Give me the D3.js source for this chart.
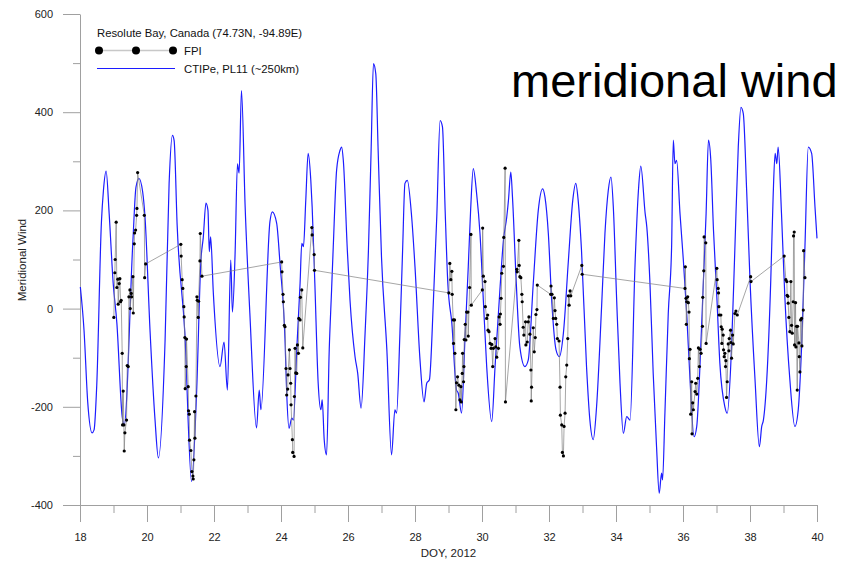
<!DOCTYPE html>
<html>
<head>
<meta charset="utf-8">
<script src="https://cdn.jsdelivr.net/npm/d3@7"></script>
<style>
  body { margin: 0; background: #fff; }
  svg { display: block; font-family: "Liberation Sans", Arial, sans-serif; }
  .axis path, .axis line { stroke: #a0a0a0; stroke-width: 1; }
  .axis text { fill: #222; font-size: 11px; }
</style>
</head>
<body>
<svg id="chart" width="850" height="569"></svg>
<script>
// CTIPe model, PL11 (~250km)
var ctipeDoy = [18.01, 18.12, 18.23, 18.36, 18.42, 18.50, 18.64, 18.70, 18.78, 18.87, 18.99, 19.10, 19.26, 19.32, 19.58, 19.67, 19.76, 19.87, 19.94,
  20.09, 20.24, 20.34, 20.54, 20.66, 20.76, 20.81, 20.90, 21.13, 21.33, 21.48, 21.61, 21.68, 21.76, 21.82, 21.86, 21.90, 21.98,
  22.18, 22.30, 22.40, 22.50, 22.55, 22.63, 22.70, 22.75, 22.82, 22.93, 23.07, 23.27, 23.35, 23.40, 23.67, 23.74, 23.87, 23.97,
  24.12, 24.17, 24.24, 24.32, 24.37, 24.47, 24.57, 24.62, 24.67, 24.74, 24.81, 24.89, 24.93, 25.01, 25.11, 25.19, 25.23, 25.29, 25.36,
  25.44, 25.51, 25.56, 25.66, 25.76, 25.81, 25.86, 25.98, 26.06, 26.21, 26.29, 26.39, 26.51, 26.61, 26.69, 26.76, 26.83, 26.90,
  27.00, 27.16, 27.30, 27.40, 27.45, 27.55, 27.63, 27.70, 27.77, 27.90, 28.00, 28.15, 28.27, 28.35, 28.43, 28.55, 28.65, 28.75, 28.82,
  28.90, 28.98, 29.10, 29.24, 29.29, 29.39, 29.49, 29.59, 29.66, 29.74, 29.84, 29.94, 30.04, 30.14, 30.29, 30.39, 30.54, 30.64,
  30.74, 30.79, 30.86, 30.91, 31.01, 31.13, 31.28, 31.38, 31.53, 31.68, 31.81, 31.88, 31.98, 32.08, 32.21, 32.31, 32.43, 32.58,
  32.71, 32.80, 32.87, 32.97, 33.12, 33.22, 33.32, 33.42, 33.57, 33.67, 33.77, 33.85, 33.92, 34.02, 34.12, 34.22, 34.32, 34.42,
  34.57, 34.67, 34.74, 34.87, 34.92, 35.01, 35.11, 35.21, 35.29, 35.36, 35.39, 35.46, 35.56, 35.66, 35.71, 35.76, 35.81, 35.91,
  36.01, 36.11, 36.21, 36.33, 36.41, 36.51, 36.61, 36.69, 36.76, 36.83, 36.91, 37.01, 37.10, 37.25, 37.32, 37.45, 37.55, 37.65,
  37.73, 37.80, 37.90, 38.00, 38.15, 38.28, 38.35, 38.40, 38.50, 38.62, 38.69, 38.75, 38.80, 38.84, 38.94, 39.04, 39.19, 39.34,
  39.44, 39.54, 39.64, 39.74, 39.84, 39.94, 40.00];
var ctipeWind = [44, -44, -190, -253, -247, -156, 177, 241, 280, 194, 52, -29, -220, -237, 139, 247, 265, 238, 187,
  -44, -227, -304, -64, 255, 353, 342, 170, -50, -352, -172, 99, 145, 215, 200, 116, 146, 32,
  -118, -68, -166, 99, -7, 113, 295, 276, 444, 207, -9, -243, -166, -206, 177, 197, 174, 92,
  -64, -172, -244, -223, -227, -84, 52, 133, 126, 221, 316, 261, 207, 52, -152, -206, -186, -267, -298,
  -84, 38, 126, 282, 322, 329, 302, 119, 17, -98, -132, -203, -50, 119, 322, 499, 478, 322,
  105, -84, -298, -206, -213, -50, 119, 255, 261, 187, 85, -105, -190, -152, -145, 17, 187, 383, 370,
  200, 51, -30, -166, -172, -213, -64, 85, 200, 285, 234, 153, 17, -118, -230, -118, 44, 139,
  187, 221, 278, 227, 72, -78, -118, -105, 51, 200, 244, 227, 153, 17, -84, -98, -50, 99,
  221, 255, 221, 119, -118, -227, -267, -200, 4, 153, 241, 268, 207, 17, -152, -254, -220, -227,
  93, 241, 290, 194, 166, 58, -131, -281, -376, -335, -349, -213, -10, 126, 343, 295, 302, 194,
  99, -10, -145, -261, -240, -111, 58, 194, 343, 302, 160, 24, -111, -200, -213, -78, 126, 329,
  410, 397, 241, 58, -145, -281, -240, -227, -145, 58, 227, 316, 295, 329, 194, 24, -145, -240,
  -206, -78, 126, 329, 316, 207, 143];

// FPI, Resolute Bay
var fpiDoy = [19.01, 19.04, 19.05, 19.08, 19.10, 19.13, 19.14, 19.17, 19.19, 19.21, 19.23, 19.26, 19.27, 19.29, 19.31, 19.32, 19.34,
  19.39, 19.41, 19.44, 19.46, 19.49, 19.50, 19.53, 19.54, 19.58, 19.59, 19.62, 19.63, 19.66, 19.69, 19.70, 19.72, 19.92, 19.93, 19.96,
  21.01, 21.02, 21.05, 21.07, 21.10, 21.11, 21.13, 21.14, 21.17, 21.18, 21.23, 21.24, 21.26, 21.27, 21.31, 21.34, 21.37, 21.38,
  21.40, 21.42, 21.43, 21.46, 21.49, 21.50, 21.53, 21.54, 21.58, 21.59, 21.64,
  24.02, 24.03, 24.06, 24.07, 24.10, 24.12, 24.15, 24.17, 24.20, 24.21, 24.25, 24.27, 24.29, 24.30, 24.34, 24.35, 24.39, 24.40,
  24.42, 24.44, 24.47, 24.49, 24.52, 24.53, 24.57, 24.58, 24.62, 24.65, 24.92, 24.93, 24.99, 25.00,
  29.01, 29.04, 29.07, 29.10, 29.11, 29.14, 29.15, 29.18, 29.19, 29.22, 29.24, 29.27, 29.31, 29.34, 29.37, 29.38, 29.41, 29.42,
  29.45, 29.46, 29.47, 29.50, 29.52, 29.54, 29.58, 29.59, 29.63, 29.67, 29.68, 30.01, 30.02, 30.04, 30.09, 30.10, 30.14, 30.17,
  30.18, 30.21, 30.24, 30.27, 30.29, 30.32, 30.34, 30.39, 30.41, 30.44, 30.49, 30.51, 30.54, 30.55, 30.57, 30.59, 30.64, 30.65,
  30.69, 30.70, 31.04, 31.05, 31.10, 31.11, 31.13, 31.16, 31.19, 31.20, 31.23, 31.25, 31.30, 31.31, 31.35, 31.38, 31.40, 31.43,
  31.46, 31.47, 31.48, 31.53, 31.56, 31.59, 31.61, 31.64, 31.65, 32.05, 32.06, 32.09, 32.13, 32.16, 32.18, 32.20, 32.23, 32.25,
  32.30, 32.33, 32.34, 32.38, 32.40, 32.43, 32.45, 32.48, 32.50, 32.53, 32.56, 32.58, 32.60, 32.63, 32.65, 32.98, 32.99,
  36.06, 36.07, 36.09, 36.10, 36.11, 36.14, 36.16, 36.18, 36.19, 36.21, 36.23, 36.26, 36.27, 36.29, 36.31, 36.36, 36.38, 36.41,
  36.44, 36.46, 36.49, 36.51, 36.54, 36.58, 36.59, 36.62, 36.63, 36.68, 36.69, 37.01, 37.02, 37.05, 37.06, 37.07, 37.08, 37.13,
  37.14, 37.16, 37.17, 37.20, 37.21, 37.23, 37.25, 37.27, 37.28, 37.30, 37.32, 37.35, 37.37, 37.38, 37.42, 37.43, 37.45, 37.48,
  37.50, 37.55, 37.58, 37.62, 38.02, 38.03,
  39.02, 39.07, 39.10, 39.11, 39.13, 39.14, 39.16, 39.19, 39.22, 39.24, 39.26, 39.29, 39.30, 39.32, 39.33, 39.36, 39.37, 39.39,
  39.41, 39.42, 39.46, 39.47, 39.49, 39.51, 39.54, 39.55, 39.59, 39.60, 39.64];
var fpiWind = [-18, 73, 100, 176, 43, 60, 9, 51, 61, 14, 17, -91, -237, -168, -237, -290, -253,
  -227, -116, -118, 24, 38, 0, 31, 24, 65, -9, 132, 154, 160, 190, 204, 277, 190, 63, 91,
  131, 107, 59, 41, 4, -17, -59, -163, -118, -62, -159, -208, -215, -268, -289, -332, -341, -347,
  -308, -210, -264, -178, 24, 17, -18, 15, 97, 153, 66,
  95, 75, 29, 14, -34, -37, -122, -176, -164, -135, -84, -122, -152, -196, -267, -293, -301, -179,
  -81, -131, -132, -74, -91, -20, -23, 23, 38, -80, 165, 150, 110, 78,
  32, 92, 59, 76, 29, -23, -71, -23, -91, -206, -151, -139, -156, -186, -159, -190, -132, -91,
  -149, -118, -63, -32, -64, -7, -7, -56, 43, 151, 7, 38, 164, 66, 55, 4, -20, -13,
  -44, -47, -71, -81, -73, -118, -81, -61, -78, -99, -81, -17, -32, -11, 21, 72, 86, 145,
  286, -190, 80, 75, 139, 88, 65, 63, 29, 14, -38, -54, -27, -74, -68, -27, -17, -52,
  -125, -188, -160, -39, -88, -59, -12, -2, 48, 29, 46, 29, -20, 22, -4, -20, -32, -61,
  -66, -160, -217, -237, -293, -300, -240, -213, -139, -115, -61, 26, 7, 36, 26, 88, 70,
  41, 85, 21, -32, 14, 24, 12, -7, -102, -83, -215, -149, -255, -192, -206, -169, -152, -174,
  -142, -80, -118, -83, -91, -36, 23, 77, 146, 134, -71, 82, 59, 41, 32, 4, -13, -13,
  -37, -71, -42, -54, -84, -98, -91, -118, -106, -181, -149, -72, -86, -61, -44, -69, -101, -54,
  -72, -10, -5, -13, 65, 55,
  107, 59, 55, 27, 25, 11, -18, -47, 55, -34, -50, 14, 148, 156, -74, 12, -78, -36,
  -166, -36, -70, -98, -129, -23, -20, -76, -3, 118, 63];

var xTicks = d3.range(18, 41, 1),
    yTicks = d3.range(-400, 601, 100);

var svg = d3.select('#chart');

var x = d3.scaleLinear().domain([18, 40]).range([80, 817]),
    y = d3.scaleLinear().domain([-400, 600]).range([505, 14]);

// x axis
var xAxis = d3.axisBottom(x)
              .tickValues(xTicks)
              .tickSizeOuter(0)
              .tickFormat(function(d) { return d % 2 === 0 ? d : ''; });

var gx = svg.append('g')
            .attr('class', 'x axis')
            .attr('transform', 'translate(0,505)')
            .call(xAxis);
gx.selectAll('.tick line').attr('y2', function(d) { return d % 2 === 0 ? 17 : 8; });
gx.selectAll('.tick text').attr('y', 28);

// y axis
var yAxis = d3.axisLeft(y)
              .tickValues(yTicks)
              .tickSizeOuter(0)
              .tickFormat(function(d) { return d % 200 === 0 ? d : ''; });

var gy = svg.append('g')
            .attr('class', 'y axis')
            .attr('transform', 'translate(80,0)')
            .call(yAxis);
gy.selectAll('.tick line').attr('x2', function(d) { return d % 200 === 0 ? -17 : -7; });
gy.selectAll('.tick text').attr('x', -27);

// axis titles
svg.append('text')
   .attr('x', 448.5)
   .attr('y', 557)
   .attr('text-anchor', 'middle')
   .style('font-size', '11.5px')
   .attr('fill', '#222')
   .text('DOY, 2012');

svg.append('text')
   .attr('transform', 'translate(26,260) rotate(-90)')
   .attr('text-anchor', 'middle')
   .style('font-size', '11.5px')
   .attr('fill', '#222')
   .text('Meridional Wind');

// CTIPe line, smoothed a little like the original model output
var ctipe = ctipeDoy.map(function(d, i) { return [d, ctipeWind[i]]; });
var line = d3.line()
             .x(function(d) { return x(d[0]); })
             .y(function(d) { return y(d[1]); });

svg.append('path')
   .datum(ctipe)
   .attr('fill', 'none')
   .attr('stroke', '#1c1cff')
   .attr('stroke-width', 1.2)
   .attr('stroke-linejoin', 'round')
   .attr('d', line.curve(d3.curveMonotoneX));

line.curve(d3.curveLinear);

// FPI
var fpi = fpiDoy.map(function(d, i) { return [d, fpiWind[i]]; });

svg.append('path')
   .datum(fpi)
   .attr('fill', 'none')
   .attr('stroke', '#808080')
   .attr('stroke-width', 0.7)
   .attr('d', line);

svg.selectAll('.fpi-dot')
   .data(fpi)
   .enter()
   .append('circle')
   .attr('class', 'fpi-dot')
   .attr('cx', function(d) { return x(d[0]); })
   .attr('cy', function(d) { return y(d[1]); })
   .attr('r', 1.6)
   .attr('fill', '#000');

// legend
var legend = svg.append('g').style('font-size', '11.3px').attr('fill', '#111');

legend.append('text')
      .attr('x', 97)
      .attr('y', 37)
      .text('Resolute Bay, Canada (74.73N, -94.89E)');

legend.append('line')
      .attr('x1', 99).attr('x2', 173)
      .attr('y1', 50.5).attr('y2', 50.5)
      .attr('stroke', '#c8c8c8')
      .attr('stroke-width', 1.5);

legend.selectAll('.legend-dot')
      .data([99, 136, 173])
      .enter()
      .append('circle')
      .attr('cx', function(d) { return d; })
      .attr('cy', 50.5)
      .attr('r', 4)
      .attr('fill', '#000');

legend.append('text')
      .attr('x', 184)
      .attr('y', 54.5)
      .text('FPI');

legend.append('line')
      .attr('x1', 97).attr('x2', 175)
      .attr('y1', 68.5).attr('y2', 68.5)
      .attr('stroke', '#1c1cff')
      .attr('stroke-width', 1);

legend.append('text')
      .attr('x', 184)
      .attr('y', 72.5)
      .text('CTIPe, PL11 (~250km)');

// big label
svg.append('text')
   .attr('x', 511)
   .attr('y', 97)
   .style('font-size', '47px')
   .attr('fill', '#000')
   .text('meridional wind');
</script>
</body>
</html>
